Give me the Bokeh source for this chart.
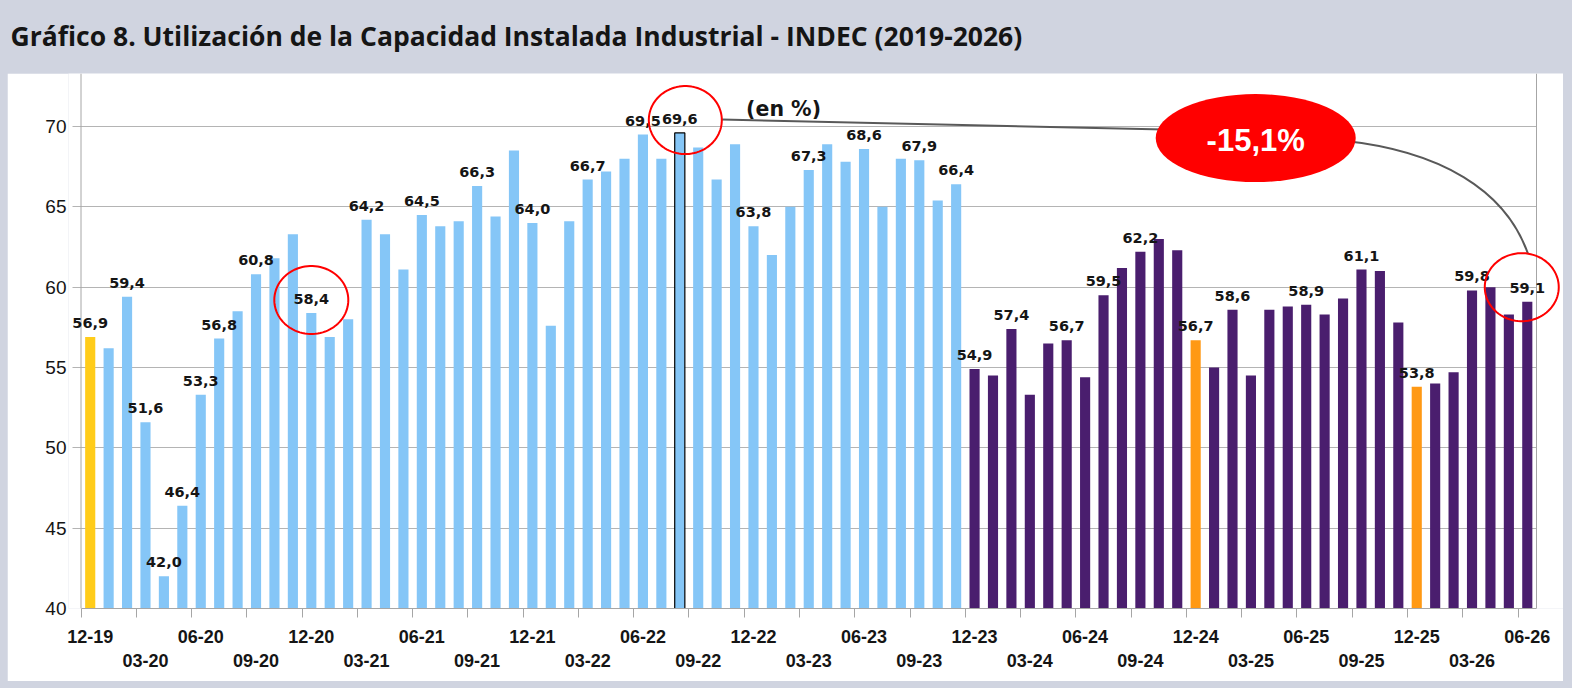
import math
from bokeh.plotting import figure
from bokeh.models import (Range1d, LinearAxis, FixedTicker, ColumnDataSource, LabelSet,
                          PolyAnnotation, Span, Spacer)
from bokeh.layouts import column, row
from bokeh.core.properties import value
from bokeh.embed import file_html
from bokeh.resources import INLINE

TITLE = "Gráfico 8. Utilización de la Capacidad Instalada Industrial - INDEC (2019-2026)"
UNIT_NOTE = "(en %)"
CHANGE_NOTE = "-15,1%"

# categories: monthly, 12-19 .. 06-26
months = []
yy, mm = 19, 12
for _ in range(79):
    months.append(f"{mm:02d}-{yy:02d}")
    mm += 1
    if mm > 12:
        mm = 1
        yy += 1

# capacity utilization (%)
cu_2020 = [56.9, 56.2, 59.4, 51.6, 42.0, 46.4, 53.3, 56.8, 58.5, 60.8, 61.8, 63.3]   # 12-19..11-20
cu_2021 = [58.4, 56.9, 58.0, 64.2, 63.3, 61.1, 64.5, 63.8, 64.1, 66.3, 64.4, 68.5]   # 12-20..11-21
cu_2022 = [64.0, 57.6, 64.1, 66.7, 67.2, 68.0, 69.5, 68.0, 69.6, 68.7, 66.7, 68.9]   # 12-21..11-22
cu_2023 = [63.8, 62.0, 65.0, 67.3, 68.9, 67.8, 68.6, 65.0, 68.0, 67.9, 65.4, 66.4]   # 12-22..11-23
cu_2024 = [54.9, 54.5, 57.4, 53.3, 56.5, 56.7, 54.4, 59.5, 61.2, 62.2, 63.0, 62.3]   # 12-23..11-24
cu_2025 = [56.7, 55.0, 58.6, 54.5, 58.6, 58.8, 58.9, 58.3, 59.3, 61.1, 61.0, 57.8]   # 12-24..11-25
cu_2026 = [53.8, 54.0, 54.7, 59.8, 60.0, 58.3, 59.1]                                 # 12-25..06-26
values = cu_2020 + cu_2021 + cu_2022 + cu_2023 + cu_2024 + cu_2025 + cu_2026

first_purple = 48          # 12-23
yellow_idx = [0]           # 12-19
orange_idx = [60, 72]      # 12-24, 12-25
outlined_idx = [32]        # 08-22 (peak)
labeled_idx = [0, 2, 3, 4, 5, 6, 7, 9, 12, 15, 18, 21, 24, 27, 30, 32, 36, 39, 42, 45,
               47, 48, 50, 53, 55, 57, 60, 62, 66, 69, 72, 75, 78]
row1_idx = list(range(0, 79, 6))
row2_idx = list(range(3, 79, 6))
y_ticks = [40, 45, 50, 55, 60, 65, 70]

# annotations (data coords; sizes in px)
circles_x = [12.0, 32.3, 77.7]
circles_y = [59.2, 70.4, 60.0]
circles_w = [74, 73, 74]
circles_h = [68, 68, 68]
badge_x, badge_y = 63.26, 69.28
note_x, note_y = 35.6, 71.1

BLUE = "#85C6F7"
PURPLE = "#4A1E6E"
YELLOW = "#FFCC1A"
ORANGE = "#FF9914"
BAND = "#D0D4E0"
AXIS_C = "#A6A6A6"
GRID_C = "#B4B4B4"
TXT = "#151515"

# page layout
PAGE_W = 1572
PAD_L, PAD_B = 7, 7
TITLE_H = 73
# geometry of the main figure (px inside the figure)
FIG_W, FIG_H = 1556, 608
FR_L, FR_R = 61, 1556          # frame edges
AX_L, AX_R = 73.5, 1529.0      # category area (-0.5 .. 78.5)
FR_H = 535
TICK = 9
Y0, Y1 = 40, 73.3
XPX = (AX_R - AX_L) / 79.0
YPX = FR_H / (Y1 - Y0)
X0 = -0.5 - (AX_L - FR_L) / XPX
X1 = 78.5 + (FR_R - AX_R) / XPX

colors = []
for i in range(len(values)):
    if i in yellow_idx:
        colors.append(YELLOW)
    elif i in orange_idx:
        colors.append(ORANGE)
    elif i >= first_purple:
        colors.append(PURPLE)
    else:
        colors.append(BLUE)
line_alpha = [1.0 if i in outlined_idx else 0.0 for i in range(len(values))]

# ---- title band
t = figure(width=PAGE_W, height=TITLE_H, x_range=Range1d(0, 1), y_range=Range1d(0, 1),
           output_backend="svg", toolbar_location=None,
           x_axis_type=None, y_axis_type=None,
           min_border_top=53, min_border_bottom=0, min_border_left=PAD_L + FR_L,
           min_border_right=PAGE_W - (PAD_L + FR_R),
           background_fill_color=BAND, border_fill_color=BAND, outline_line_color=None)
t.title.text = TITLE
t.title.align = "left"
t.title.offset = 10 - (PAD_L + FR_L)
t.title.standoff = 0
t.title.text_font = "Open Sans"
t.title.text_font_style = "bold"
t.title.text_font_size = "26.5px"
t.title.text_color = TXT

# ---- main chart
p = figure(width=FIG_W, height=FIG_H, x_range=Range1d(X0, X1), y_range=Range1d(Y0, Y1),
           output_backend="svg", toolbar_location=None, title=None,
           x_axis_location=None, min_border_left=FR_L, min_border_right=FIG_W - FR_R,
           min_border_top=0, min_border_bottom=FIG_H - FR_H,
           background_fill_color="white", border_fill_color="white", outline_line_color=None)
p.xgrid.visible = False

ya = p.yaxis[0]
ya.ticker = FixedTicker(ticks=y_ticks)
ya.major_tick_out = 0
ya.major_tick_in = 0
ya.major_tick_line_color = None
ya.minor_tick_line_color = None
ya.axis_line_color = None
ya.major_label_standoff = 2
ya.major_label_text_font = "Liberation Sans"
ya.major_label_text_font_size = "19px"
ya.major_label_text_color = TXT

# y axis line at the category edge; grid lines extended left form the tick marks
p.add_layout(Span(location=-0.5, dimension="height", line_color=AXIS_C, line_width=1))
grid_left = -0.5 - TICK / XPX
grid_ok = False
try:
    p.ygrid[0].cross_bounds = (grid_left, 78.5)
    grid_ok = True
except Exception:
    grid_ok = False
if grid_ok:
    p.ygrid.ticker = FixedTicker(ticks=y_ticks)
    p.ygrid.grid_line_color = GRID_C
else:
    p.ygrid.visible = False
    p.segment(x0=[grid_left] * len(y_ticks), y0=y_ticks, x1=[78.5] * len(y_ticks), y1=y_ticks,
              line_color=GRID_C, line_width=1)

boundaries = [-0.5] + [k - 0.5 for k in range(3, 79, 3)]
ax1 = LinearAxis(ticker=FixedTicker(ticks=row1_idx, minor_ticks=boundaries),
                 major_label_overrides={i: months[i] for i in row1_idx},
                 bounds=(-0.5, 78.5))
ax1.major_tick_out = 0
ax1.major_tick_in = 0
ax1.major_tick_line_color = None
ax1.minor_tick_out = TICK
ax1.minor_tick_in = 0
ax1.minor_tick_line_color = AXIS_C
ax1.axis_line_color = AXIS_C
ax1.major_label_standoff = 12
ax1.major_label_text_font = "Liberation Sans"
ax1.major_label_text_font_style = "bold"
ax1.major_label_text_font_size = "18px"
ax1.major_label_text_color = TXT
p.add_layout(ax1, "below")

ax2 = LinearAxis(ticker=FixedTicker(ticks=row2_idx),
                 major_label_overrides={i: months[i] for i in row2_idx},
                 bounds=(-0.5, 78.5))
ax2.major_tick_out = 0
ax2.major_tick_in = 0
ax2.major_tick_line_color = None
ax2.minor_tick_line_color = None
ax2.axis_line_color = None
ax2.major_label_standoff = 8
ax2.major_label_text_font = "Liberation Sans"
ax2.major_label_text_font_style = "bold"
ax2.major_label_text_font_size = "18px"
ax2.major_label_text_color = TXT
p.add_layout(ax2, "below")

# right border of the plot area
p.add_layout(Span(location=78.5, dimension="height", line_color=AXIS_C, line_width=1))

src = ColumnDataSource(dict(x=list(range(len(values))), top=values, color=colors, la=line_alpha))
p.vbar(x="x", top="top", bottom=Y0, width=0.55, fill_color="color",
       line_color="black", line_alpha="la", line_width=1.2, source=src)

lab = ColumnDataSource(dict(
    x=labeled_idx,
    y=[values[i] for i in labeled_idx],
    t=[f"{values[i]:.1f}".replace(".", ",") for i in labeled_idx]))
p.add_layout(LabelSet(x="x", y="y", text="t", source=lab, text_align="center",
                      text_baseline="alphabetic", y_offset=9,
                      text_font=value("DejaVu Sans"), text_font_style="bold",
                      text_font_size="14.5px", text_color=TXT))

# red highlight circles
for cx, cy, w, h in zip(circles_x, circles_y, circles_w, circles_h):
    rx = w / 2.0 / XPX
    ry = h / 2.0 / YPX
    angs = [2 * math.pi * k / 90 for k in range(90)]
    p.add_layout(PolyAnnotation(xs=[cx + rx * math.cos(a) for a in angs],
                                ys=[cy + ry * math.sin(a) for a in angs],
                                fill_color=None, fill_alpha=0,
                                line_color="#FF0000", line_alpha=1.0, line_width=2))

# connectors
p.segment(x0=[34.27], y0=[70.43], x1=[badge_x], y1=[69.69], line_color="#595959", line_width=2)
p.bezier(x0=[67.88], y0=[69.13], x1=[78.03], y1=[62.10],
         cx0=[73.31], cy0=[68.51], cx1=[76.83], cy1=[66.02],
         line_color="#595959", line_width=2)

# badge
p.ellipse(x=[badge_x], y=[badge_y], width=[200], height=[88],
          width_units="screen", height_units="screen",
          fill_color="#FF0000", line_color=None)
p.text(x=[badge_x], y=[badge_y], text=[CHANGE_NOTE], text_align="center", text_baseline="middle",
       y_offset=2, text_font=value("Liberation Sans"), text_font_style="bold",
       text_font_size="31px", text_color="white")

p.text(x=[note_x], y=[note_y], text=[UNIT_NOTE], text_align="left", text_baseline="alphabetic",
       text_font=value("DejaVu Sans"), text_font_style="bold", text_font_size="20.5px",
       text_color=TXT)

layout = column(t,
                row(Spacer(width=PAD_L, height=FIG_H), p, spacing=0),
                Spacer(width=PAGE_W, height=PAD_B),
                spacing=0, styles={"background-color": BAND})
open("out.html", "w").write(file_html(layout, INLINE))
